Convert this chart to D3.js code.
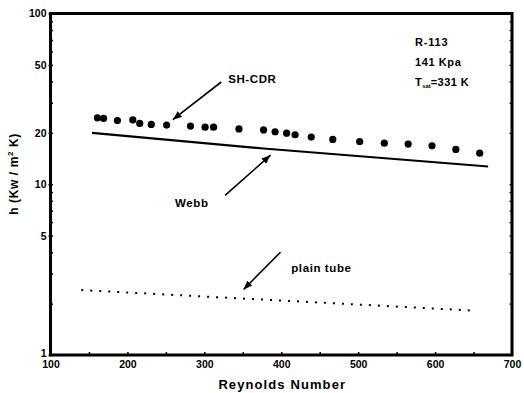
<!DOCTYPE html>
<html>
<head>
<meta charset="utf-8">
<script src="https://cdn.jsdelivr.net/npm/d3@7"></script>
<style>
  body { margin: 0; background: #fff; }
  text { font-family: Arial, "Liberation Sans", sans-serif; font-weight: bold; fill: #000; }
</style>
</head>
<body>
<div id="vis"></div>
<script>
// SH-CDR measured points (Reynolds number, h)
const shcdrRe = [161, 169, 187, 207, 216, 231, 251, 282, 301, 312, 345, 377, 392, 407, 418, 439, 467, 502, 534, 565, 596, 627, 658];
const shcdrH = [24.5, 24.3, 23.6, 23.8, 22.7, 22.4, 22.2, 21.9, 21.6, 21.6, 21.1, 20.8, 20.3, 19.9, 19.5, 18.9, 18.3, 17.8, 17.4, 17.2, 16.8, 16.0, 15.2];
// Webb correlation
const webbRe = [154, 377, 669];
const webbH = [20.0, 16.2, 12.7];
// plain tube
const plainRe = [140, 650];
const plainH = [2.40, 1.82];

const xTickValues = [100, 200, 300, 400, 500, 600, 700];
const yTickLabels = [1, 5, 10, 20, 50, 100];

(function () {
    const W = 524, H = 393;
    const margin = { top: 13.5, right: 12, bottom: 38, left: 50.5 };
    const width = W - margin.left - margin.right;
    const height = H - margin.top - margin.bottom;

    const svgRoot = d3.select("#vis").append("svg")
        .attr("width", W)
        .attr("height", H);

    svgRoot.append("defs").append("marker")
        .attr("id", "arrow")
        .attr("markerUnits", "userSpaceOnUse")
        .attr("markerWidth", 10)
        .attr("markerHeight", 8)
        .attr("refX", 9)
        .attr("refY", 3.5)
        .attr("orient", "auto")
        .append("path")
        .attr("d", "M0,0 L9,3.5 L0,7 Z")
        .attr("fill", "#000");

    const svg = svgRoot.append("g")
        .attr("transform", `translate(${margin.left},${margin.top})`);

    const x = d3.scaleLinear().domain([100, 700]).range([0, width]);
    const y = d3.scaleLog().domain([1, 100]).range([height, 0]);

    // minor ticks (inward) on left and right, log spacing
    const minorY = [];
    for (let dec = 1; dec < 100; dec *= 10) {
        for (let k = 1; k < 10; k++) minorY.push(dec * k);
    }
    minorY.push(100);

    svg.append("g").call(d3.axisRight(y).tickValues(minorY).tickSize(2.5).tickFormat(""))
        .call(g => g.select(".domain").remove())
        .selectAll("line").attr("stroke-width", 1.5);
    svg.append("g").attr("transform", `translate(${width},0)`)
        .call(d3.axisLeft(y).tickValues(minorY).tickSize(2.5).tickFormat(""))
        .call(g => g.select(".domain").remove())
        .selectAll("line").attr("stroke-width", 1.2);

    // y tick labels with short outward ticks
    const yAx = svg.append("g")
        .call(d3.axisLeft(y).tickValues(yTickLabels).tickSize(2).tickPadding(2).tickFormat(d3.format("d")));
    yAx.select(".domain").remove();
    yAx.selectAll("line").attr("stroke-width", 1.5);
    yAx.selectAll("text")
        .style("font-family", "'Liberation Sans Narrow', 'Arial Narrow', Arial, sans-serif")
        .style("font-weight", "bold")
        .style("font-size", "10.5px")
        .attr("dy", d => d === 1 ? "0.12em" : "0.32em");

    // bottom ticks every 50 (inward)
    const xMinor = d3.range(100, 701, 50);
    svg.append("g").attr("transform", `translate(0,${height})`)
        .call(d3.axisTop(x).tickValues(xMinor).tickSize(3).tickFormat(""))
        .call(g => g.select(".domain").remove())
        .selectAll("line").attr("stroke-width", 1.5);

    const xAx = svg.append("g").attr("transform", `translate(0,${height})`)
        .call(d3.axisBottom(x).tickValues(xTickValues).tickSize(0).tickPadding(6).tickFormat(d3.format("d")));
    xAx.select(".domain").remove();
    xAx.selectAll("text")
        .style("font-family", "'Liberation Sans Narrow', 'Arial Narrow', Arial, sans-serif")
        .style("font-weight", "bold")
        .style("font-size", "10.5px");

    // frame
    svg.append("rect")
        .attr("x", 0).attr("y", 0)
        .attr("width", width).attr("height", height)
        .attr("fill", "none")
        .attr("stroke", "#000")
        .attr("stroke-width", 3);

    // Webb line
    const line = d3.line().x(d => x(d[0])).y(d => y(d[1]));
    svg.append("path")
        .datum(d3.zip(webbRe, webbH))
        .attr("fill", "none")
        .attr("stroke", "#000")
        .attr("stroke-width", 2.2)
        .attr("d", line);

    // plain tube dotted line
    svg.append("path")
        .datum(d3.zip(plainRe, plainH))
        .attr("fill", "none")
        .attr("stroke", "#000")
        .attr("stroke-width", 2)
        .attr("stroke-dasharray", "2,7")
        .attr("d", line);

    // SH-CDR points
    svg.selectAll("circle.pt")
        .data(d3.zip(shcdrRe, shcdrH))
        .enter()
        .append("circle")
        .attr("class", "pt")
        .attr("cx", d => x(d[0]))
        .attr("cy", d => y(d[1]))
        .attr("r", 3.6)
        .attr("fill", "#000");

    // annotations (data coordinates)
    const notes = [
        { text: "SH-CDR", tx: 331, ty: 39.2, from: [322, 39.7], to: [259, 23.9] },
        { text: "Webb", tx: 262, ty: 7.36, from: [327, 8.6], to: [386, 14.8] },
        { text: "plain tube", tx: 413, ty: 3.06, from: [399, 4.0], to: [351, 2.42] }
    ];

    notes.forEach(n => {
        svg.append("line")
            .attr("x1", x(n.from[0])).attr("y1", y(n.from[1]))
            .attr("x2", x(n.to[0])).attr("y2", y(n.to[1]))
            .attr("stroke", "#000")
            .attr("stroke-width", 1.6)
            .attr("marker-end", "url(#arrow)");
        svg.append("text")
            .attr("x", x(n.tx))
            .attr("y", y(n.ty))
            .style("font-size", "11.5px")
            .style("letter-spacing", "0.6px")
            .text(n.text);
    });

    // condition block, top right
    const info = svgRoot.append("g").attr("transform", "translate(415,0)");
    info.append("text").attr("y", 46).style("font-size", "11px").style("letter-spacing", "0.8px").text("R-113");
    info.append("text").attr("y", 66).style("font-size", "11px").style("letter-spacing", "0.6px").text("141 Kpa");
    const tsat = info.append("text").attr("y", 86).style("font-size", "11px").style("letter-spacing", "0.4px");
    tsat.append("tspan").text("T");
    tsat.append("tspan").attr("dy", 2).style("font-size", "6px").style("letter-spacing", "0px").text("sat");
    tsat.append("tspan").attr("dy", -2).text("=331 K");

    // axis titles
    svgRoot.append("text")
        .attr("x", margin.left + x(400) + 1)
        .attr("y", 389)
        .attr("text-anchor", "middle")
        .style("font-size", "13px")
        .style("letter-spacing", "1.1px")
        .text("Reynolds Number");

    const yl = svgRoot.append("text")
        .attr("transform", "translate(18,174) rotate(-90)")
        .attr("text-anchor", "middle")
        .style("font-size", "12px")
        .style("letter-spacing", "0.6px");
    yl.append("tspan").text("h (Kw / m");
    yl.append("tspan").attr("dy", -5).style("font-size", "8px").text("2");
    yl.append("tspan").attr("dy", 5).text(" K)");
})();
</script>
</body>
</html>
